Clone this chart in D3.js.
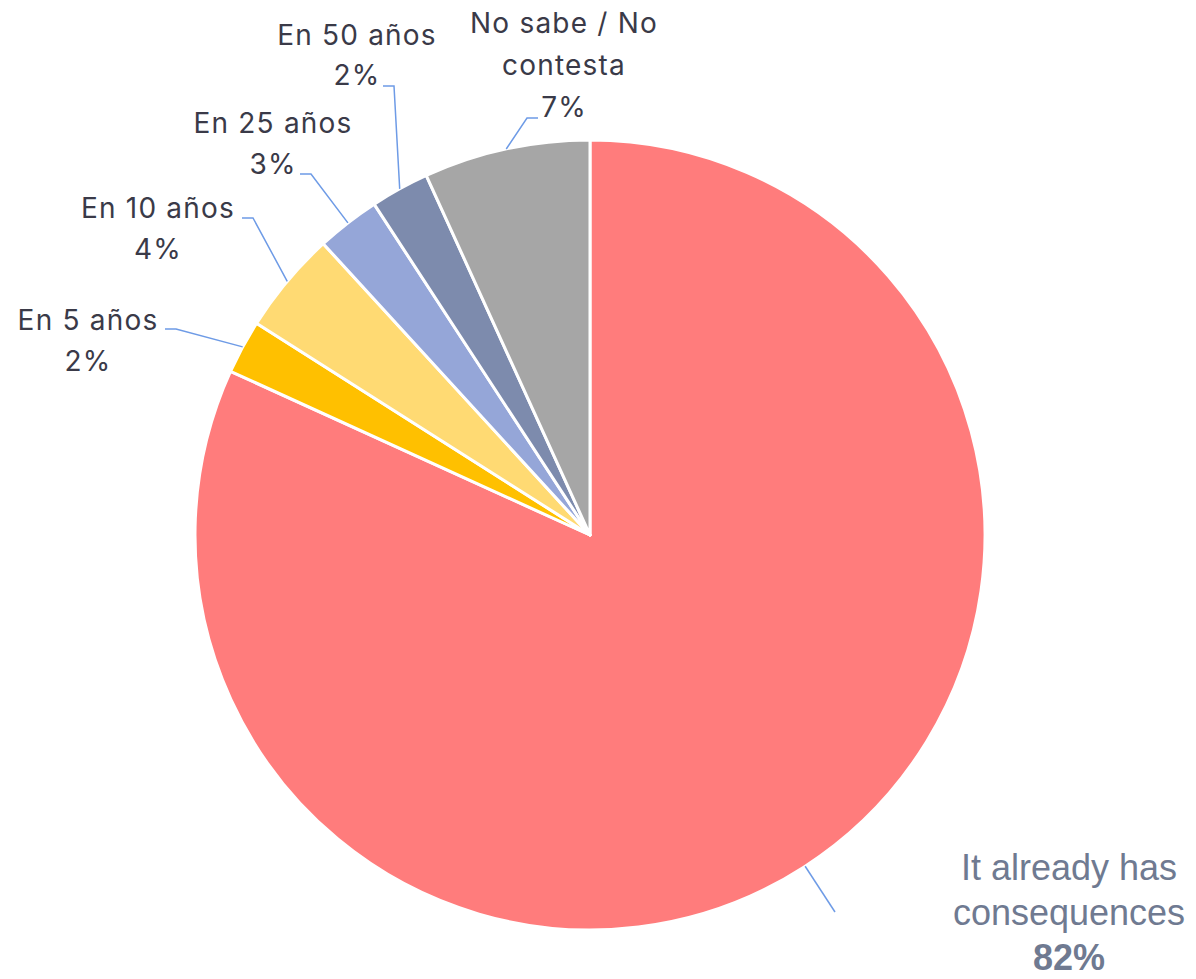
<!DOCTYPE html>
<html>
<head>
<meta charset="utf-8">
<script src="https://cdn.jsdelivr.net/npm/d3@7"></script>
<style>
  body { margin: 0; background: #fff; }
  svg { display: block; }
</style>
</head>
<body>
<script>
// 数据：类别、数值、颜色
var categories = ["It already has consequences", "En 5 años", "En 10 años", "En 25 años", "En 50 años", "No sabe / No contesta"];
var values = [81.8, 2.2, 4.2, 2.6, 2.4, 6.8];
var colors = ["#FF7C7C", "#FFC000", "#FFDA73", "#95A6D8", "#7D8BAD", "#A6A6A6"];
// 标签的分行
var labelLines = [["It already has", "consequences"], ["En 5 años"], ["En 10 años"], ["En 25 años"], ["En 50 años"], ["No sabe / No", "contesta"]];

var width = 1196, height = 979;
var cx = 590, cy = 535, radius = 395;

// 标签位置（文字中心x，第一行基线y，引线钩子端点，钩子方向）
var labelLayout = [
    { x: 1069, y: 880, lh: 45, hook: [835, 912], side: 0, angle: 147 },
    { x: 88, y: 330, lh: 41, hook: [165, 329], side: 1 },
    { x: 158, y: 218, lh: 41, hook: [242, 218], side: 1 },
    { x: 273, y: 133, lh: 41, hook: [300, 174], side: 1 },
    { x: 357, y: 45, lh: 40, hook: [383, 86], side: 1 },
    { x: 564, y: 33, lh: 42, hook: [538, 118], side: -1 }
];

var data = categories.map(function (c, i) {
    return { name: c, value: values[i], color: colors[i], lines: labelLines[i], layout: labelLayout[i] };
});

var svg = d3.select("body").append("svg").attr("width", width).attr("height", height);
var g = svg.append("g").attr("transform", "translate(" + cx + "," + cy + ")");

var pie = d3.pie().sort(null).value(function (d) { return d.value; });
var arc = d3.arc().innerRadius(0).outerRadius(radius);
var arcs = pie(data);

g.selectAll("path.slice")
    .data(arcs)
    .enter().append("path")
    .attr("class", "slice")
    .attr("d", arc)
    .attr("fill", function (d) { return d.data.color; })
    .attr("stroke", "#fff")
    .attr("stroke-width", 3)
    .attr("stroke-linejoin", "round");

// 引线
var line = d3.line();
arcs.forEach(function (d, i) {
    var L = d.data.layout;
    var a = L.angle !== undefined ? L.angle * Math.PI / 180 : (d.startAngle + d.endAngle) / 2;
    var p0 = [cx + radius * Math.sin(a), cy - radius * Math.cos(a)];
    var pts;
    if (L.side === 0) {
        pts = [p0, L.hook];
    } else {
        var elbow = [L.hook[0] + L.side * 11, L.hook[1]];
        pts = [p0, elbow, L.hook];
    }
    svg.append("path")
        .attr("d", line(pts))
        .attr("fill", "none")
        .attr("stroke", "#6E9BE6")
        .attr("stroke-width", 1.5);
});

// 文字标签
arcs.forEach(function (d, i) {
    var L = d.data.layout;
    var pct = Math.round(d.data.value) + "%";
    var big = i === 0;
    var t = svg.append("text")
        .attr("text-anchor", "middle")
        .attr("fill", big ? "#6F7A91" : "#3A3A48")
        .style("font-family", big ? "'Liberation Sans', Arial, sans-serif" : "Inter, sans-serif")
        .style("font-size", big ? "36px" : "28px")
        .style("letter-spacing", big ? "0px" : "1.2px");
    var lines = d.data.lines.concat([pct]);
    lines.forEach(function (s, j) {
        t.append("tspan")
            .attr("x", L.x)
            .attr("y", L.y + j * L.lh)
            .style("font-weight", big && j === lines.length - 1 ? "bold" : "normal")
            .text(s);
    });
});
</script>
</body>
</html>
